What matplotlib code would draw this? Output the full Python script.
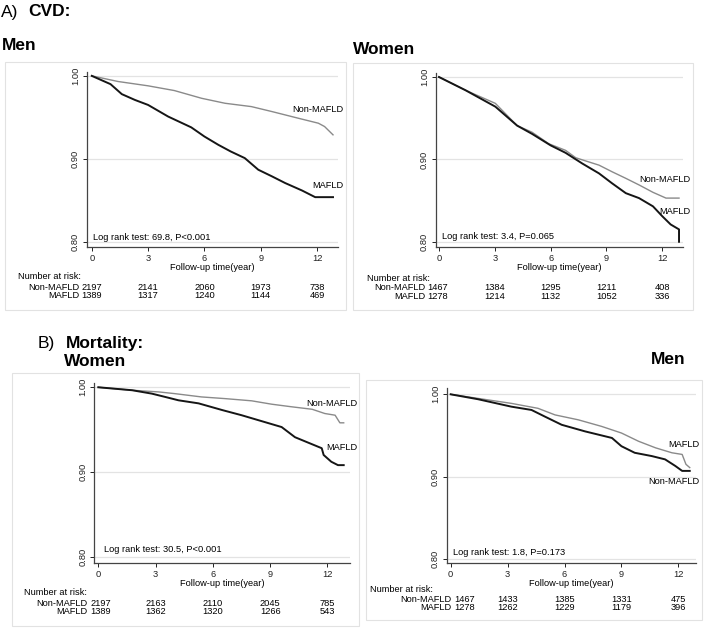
import matplotlib.pyplot as plt
from matplotlib.patches import Rectangle
from matplotlib.transforms import blended_transform_factory

plt.rcParams['font.family'] = ['Liberation Sans', 'DejaVu Sans']

W, H = 709, 630
FS = 6.7

# ---- data ----
# A) CVD, men
cvd_men_non_t = [0, 1.4, 3.0, 4.4, 5.85, 7.1, 8.5, 9.6, 11.0, 12.07, 12.4, 12.85]
cvd_men_non_s = [1.0, 0.9932, 0.988, 0.9823, 0.973, 0.967, 0.963, 0.957, 0.949, 0.943, 0.939, 0.929]
cvd_men_maf_t = [0, 0.4, 0.7, 1.0, 1.25, 1.6, 2.3, 3.0, 4.07, 5.3, 6.0, 6.74, 7.4, 8.15, 8.87, 9.6, 10.3, 11.2, 11.9, 12.85]
cvd_men_maf_s = [1.0, 0.996, 0.993, 0.990, 0.985, 0.978, 0.971, 0.965, 0.951, 0.938, 0.927, 0.917, 0.909,
                 0.901, 0.887, 0.879, 0.871, 0.862, 0.854, 0.854]

# A) CVD, women
cvd_wom_non_t = [0, 1.42, 3.03, 4.2, 5.0, 5.9, 6.8, 7.35, 7.9, 8.6, 9.3, 10.04, 10.75, 11.5, 12.2, 12.9]
cvd_wom_non_s = [1.0, 0.984, 0.968, 0.941, 0.933, 0.919, 0.911, 0.902, 0.898, 0.893, 0.885, 0.877, 0.869,
                 0.860, 0.853, 0.853]
cvd_wom_maf_t = [0, 1.42, 3.03, 4.2, 5.0, 6.0, 6.8, 7.7, 8.6, 9.3, 10.04, 10.75, 11.5, 12.0, 12.45, 12.9, 12.9]
cvd_wom_maf_s = [1.0, 0.984, 0.964, 0.941, 0.931, 0.917, 0.908, 0.895, 0.883, 0.871, 0.859, 0.853, 0.843,
                 0.831, 0.821, 0.815, 0.800]

# B) Mortality, women
mor_wom_non_t = [0, 1.77, 3.17, 4.0, 5.4, 6.64, 8.03, 9.08, 10.1, 11.2, 11.86, 12.4, 12.65, 12.85]
mor_wom_non_s = [1.0, 0.9965, 0.9945, 0.9925, 0.9886, 0.9866, 0.984, 0.980, 0.977, 0.974, 0.969, 0.967,
                 0.958, 0.958]
mor_wom_maf_t = [0, 1.77, 2.8, 3.5, 4.2, 5.25, 6.5, 7.5, 8.7, 9.6, 10.3, 11.16, 11.7, 11.8, 12.2, 12.55, 12.85]
mor_wom_maf_s = [1.0, 0.9965, 0.9925, 0.9886, 0.9846, 0.981, 0.973, 0.967, 0.959, 0.953, 0.941, 0.933,
                 0.928, 0.920, 0.912, 0.908, 0.908]

# B) Mortality, men (grey curve labelled MAFLD, black curve labelled Non-MAFLD)
mor_men_grey_t = [0, 1.45, 3.2, 4.6, 5.5, 6.73, 7.96, 9.0, 9.9, 10.8, 11.66, 12.2, 12.4, 12.6]
mor_men_grey_s = [1.0, 0.995, 0.989, 0.983, 0.975, 0.969, 0.961, 0.953, 0.943, 0.935, 0.929, 0.927, 0.915, 0.911]
mor_men_black_t = [0, 1.45, 3.2, 4.26, 4.96, 5.85, 7.08, 8.5, 9.0, 9.7, 10.6, 11.3, 11.84, 12.2, 12.6]
mor_men_black_s = [1.0, 0.994, 0.985, 0.981, 0.973, 0.963, 0.955, 0.947, 0.937, 0.929, 0.925, 0.921,
                   0.913, 0.907, 0.907]

risk_times = [0, 3, 6, 9, 12]
cvd_men_risk_non = [2197, 2141, 2060, 1973, 738]
cvd_men_risk_maf = [1389, 1317, 1240, 1144, 469]
cvd_wom_risk_non = [1467, 1384, 1295, 1211, 408]
cvd_wom_risk_maf = [1278, 1214, 1132, 1052, 336]
mor_wom_risk_non = [2197, 2163, 2110, 2045, 785]
mor_wom_risk_maf = [1389, 1362, 1320, 1266, 543]
mor_men_risk_non = [1467, 1433, 1385, 1331, 475]
mor_men_risk_maf = [1278, 1262, 1229, 1179, 396]

logrank = ['Log rank test: 69.8, P<0.001', 'Log rank test: 3.4, P=0.065',
           'Log rank test: 30.5, P<0.001', 'Log rank test: 1.8, P=0.173']

GREY = '#8a8a8a'
BLACK = '#151515'

fig = plt.figure(figsize=(W / 100, H / 100), dpi=100)


def box(l, t, r, b):
    fig.add_artist(Rectangle((l / W, 1 - b / H), (r - l) / W, (b - t) / H, transform=fig.transFigure,
                             fill=False, ec='#e2e2e2', lw=0.8))


def px_text(x, y, s, **kw):
    fig.text(x / W, 1 - y / H, s, **kw)


# panel layout: axes rect (px), xlim, ylim, label positions, risk table positions
panels = [
    dict(ax=(86.7, 71.7, 337.7, 247), xlim=(-0.27, 13.1), ylim=(0.794, 1.005), box=(5, 62, 346, 310),
         grey=(cvd_men_non_t, cvd_men_non_s), black=(cvd_men_maf_t, cvd_men_maf_s),
         grey_lab=('Non-MAFLD', 13.4, 0.960), black_lab=('MAFLD', 13.4, 0.868), lr=(0.05, 0.805),
         risk=(cvd_men_risk_non, cvd_men_risk_maf), nar=(18, 276.7), rows=(79, 287.3, 296)),
    dict(ax=(436, 73.3, 683.3, 246.7), xlim=(-0.16, 13.13), ylim=(0.794, 1.0045), box=(353, 63, 693, 310),
         grey=(cvd_wom_non_t, cvd_wom_non_s), black=(cvd_wom_maf_t, cvd_wom_maf_s),
         grey_lab=('Non-MAFLD', 13.5, 0.876), black_lab=('MAFLD', 13.5, 0.837), lr=(0.15, 0.806),
         risk=(cvd_wom_risk_non, cvd_wom_risk_maf), nar=(366.7, 278.3), rows=(425, 287.3, 296.7)),
    dict(ax=(94.3, 383.3, 350, 563.3), xlim=(-0.21, 13.18), ylim=(0.792, 1.0047), box=(12, 372.5, 359, 626),
         grey=(mor_wom_non_t, mor_wom_non_s), black=(mor_wom_maf_t, mor_wom_maf_s),
         grey_lab=('Non-MAFLD', 13.58, 0.981), black_lab=('MAFLD', 13.58, 0.929), lr=(0.3, 0.808),
         risk=(mor_wom_risk_non, mor_wom_risk_maf), nar=(24, 592.3), rows=(87.7, 603.3, 611.7)),
    dict(ax=(446.7, 388.3, 696, 563.3), xlim=(-0.21, 12.93), ylim=(0.7948, 1.0073), box=(365.7, 380, 702, 620),
         grey=(mor_men_grey_t, mor_men_grey_s), black=(mor_men_black_t, mor_men_black_s),
         grey_lab=('MAFLD', 13.1, 0.9396), black_lab=('Non-MAFLD', 13.1, 0.8947), lr=(0.13, 0.8075),
         risk=(mor_men_risk_non, mor_men_risk_maf), nar=(370, 590), rows=(451.7, 599.3, 607.3)),
]

for i, p in enumerate(panels):
    l, t, r, b = p['ax']
    box(*p['box'])
    ax = fig.add_axes([l / W, 1 - b / H, (r - l) / W, (b - t) / H])
    ax.set_xlim(*p['xlim'])
    ax.set_ylim(*p['ylim'])
    for yv in [0.8, 0.9, 1.0]:
        ax.axhline(yv, color='#e3e3e3', lw=0.9, zorder=0)
    ax.plot(*p['grey'], color=GREY, lw=1.0, zorder=2)
    ax.plot(*p['black'], color=BLACK, lw=1.4, zorder=3)
    for s, xv, yv in (p['grey_lab'], p['black_lab']):
        ax.text(xv, yv, s, ha='right', va='center', fontsize=FS, clip_on=False)
    ax.text(p['lr'][0], p['lr'][1], logrank[i], ha='left', va='center', fontsize=FS)

    ax.set_xticks(risk_times)
    ax.set_yticks([0.8, 0.9, 1.0])
    ax.set_yticklabels(['0.80', '0.90', '1.00'], rotation=90, va='center')
    ax.tick_params(labelsize=FS, length=3, width=0.7, pad=2, colors='#222222')
    ax.set_xlabel('Follow-up time(year)', fontsize=FS, labelpad=0)
    for side in ['top', 'right']:
        ax.spines[side].set_visible(False)
    for side in ['left', 'bottom']:
        ax.spines[side].set_color('#444444')
        ax.spines[side].set_linewidth(0.9)

    # number at risk table
    px_text(p['nar'][0], p['nar'][1], 'Number at risk:', fontsize=FS, va='center', ha='left')
    lab_r, y1, y2 = p['rows']
    px_text(lab_r, y1, 'Non-MAFLD', fontsize=FS, va='center', ha='right')
    px_text(lab_r, y2, 'MAFLD', fontsize=FS, va='center', ha='right')
    tr = blended_transform_factory(ax.transData, fig.transFigure)
    for row, yy in zip(p['risk'], (y1, y2)):
        fig.text((lab_r + 2.5) / W, 1 - yy / H, str(row[0]), fontsize=FS, va='center', ha='left')
        for tv, n in zip(risk_times[1:], row[1:]):
            fig.text(tv, 1 - yy / H, str(n), transform=tr, fontsize=FS, va='center', ha='center')

# headings
px_text(1, 12, 'A)', fontsize=12.5, va='center')
px_text(28, 12, 'CVD:', fontsize=12.5, va='center', fontweight='bold')
px_text(2, 45, 'Men', fontsize=12.5, va='center', fontweight='bold')
px_text(353, 49, 'Women', fontsize=12.5, va='center', fontweight='bold')
px_text(38, 344, 'B)', fontsize=12.5, va='center')
px_text(66, 344, 'Mortality:', fontsize=12.5, va='center', fontweight='bold')
px_text(64, 362, 'Women', fontsize=12.5, va='center', fontweight='bold')
px_text(651, 360, 'Men', fontsize=12.5, va='center', fontweight='bold')

fig.savefig('out.png', dpi=100)
